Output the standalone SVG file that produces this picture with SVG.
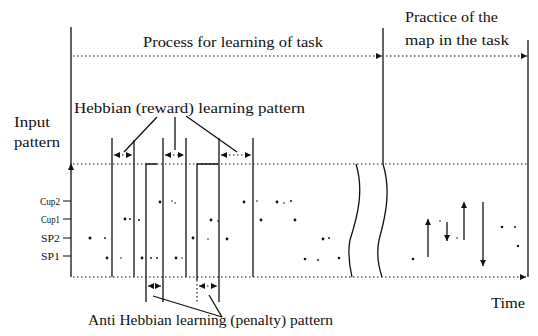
<svg xmlns="http://www.w3.org/2000/svg" width="538" height="336" viewBox="0 0 538 336">
<style>
.t{font-family:'Liberation Serif','DejaVu Serif','Noto Serif',Times,serif;fill:#111}
.s{stroke:#111;stroke-width:1.3;fill:none}
.d{stroke:#111;stroke-width:1.1;stroke-dasharray:1.5 2.5;fill:none}
.p{stroke:#111;stroke-width:1;fill:none}
.dot{fill:#111}
</style>
<defs>
<marker id="ah" viewBox="0 0 10 10" refX="10" refY="5" markerWidth="6" markerHeight="6" orient="auto-start-reverse" markerUnits="userSpaceOnUse"><path d="M0,0L10,5L0,10z" fill="#111"/></marker>
</defs>
<rect width="538" height="336" fill="#fff"/>
<g id="connectors">
<line class="s" x1="71" y1="27" x2="71" y2="277"/>
<path d="M68,170 L71,163 L74,170z" fill="#111"/>
<line class="s" x1="383" y1="28" x2="383" y2="164"/>
<line class="s" x1="528" y1="40" x2="528" y2="277"/>
<line class="d" x1="73" y1="56" x2="382" y2="56" marker-end="url(#ah)"/>
<line class="d" x1="386" y1="56" x2="527" y2="56" marker-end="url(#ah)"/>
<line class="d" x1="73" y1="164" x2="528" y2="164"/>
<line class="d" x1="73" y1="277" x2="526" y2="277" marker-end="url(#ah)"/>
<line class="p" x1="63" y1="201" x2="71" y2="201"/>
<line class="p" x1="63" y1="219" x2="71" y2="219"/>
<line class="p" x1="63" y1="238" x2="71" y2="238"/>
<line class="p" x1="63" y1="256" x2="71" y2="256"/>
<line class="s" x1="112" y1="138" x2="112" y2="277"/>
<line class="s" x1="134" y1="140" x2="134" y2="277"/>
<line class="s" x1="163" y1="138" x2="163" y2="302"/>
<line class="s" x1="186" y1="138" x2="186" y2="277"/>
<line class="s" x1="219" y1="138" x2="219" y2="302"/>
<line class="s" x1="253" y1="138" x2="253" y2="277"/>
<path class="s" d="M157,164 H146 V302"/>
<path class="s" d="M218,164 H197 V280"/>
<line class="d" x1="197" y1="280" x2="197" y2="302"/>
<line class="d" x1="114" y1="155" x2="132" y2="155" marker-start="url(#ah)" marker-end="url(#ah)"/>
<line class="d" x1="165" y1="155" x2="184" y2="155" marker-start="url(#ah)" marker-end="url(#ah)"/>
<line class="d" x1="221" y1="155" x2="251" y2="155" marker-start="url(#ah)" marker-end="url(#ah)"/>
<line class="d" x1="148" y1="286" x2="161" y2="286" marker-start="url(#ah)" marker-end="url(#ah)"/>
<line class="d" x1="199" y1="286" x2="217" y2="286" marker-start="url(#ah)" marker-end="url(#ah)"/>
<line class="s" x1="157" y1="117" x2="124" y2="152"/>
<line class="s" x1="175" y1="117" x2="175" y2="150"/>
<line class="s" x1="186" y1="116" x2="237" y2="152"/>
<line class="s" x1="153" y1="296" x2="222" y2="317"/>
<line class="s" x1="209" y1="295" x2="222" y2="317"/>
<path class="s" d="M356,164 C364,190 358,215 350,240 C347,255 350,268 352,277"/>
<path class="s" d="M383,164 C391,190 386,215 379,240 C376,255 379,268 382,277"/>
<line class="s" x1="428" y1="257" x2="428" y2="219" marker-end="url(#ah)"/>
<line class="s" x1="447" y1="222" x2="447" y2="241" marker-end="url(#ah)"/>
<line class="s" x1="464" y1="240" x2="464" y2="202" marker-end="url(#ah)"/>
<line class="s" x1="483" y1="202" x2="483" y2="266" marker-end="url(#ah)"/>
</g>
<g id="dots">
<circle class="dot" cx="160" cy="202" r="1.4"/><circle class="dot" cx="172" cy="201" r="0.8"/><circle class="dot" cx="175" cy="203" r="0.8"/>
<circle class="dot" cx="244" cy="202" r="1.4"/><circle class="dot" cx="257" cy="201" r="0.8"/><circle class="dot" cx="277" cy="202" r="1.4"/><circle class="dot" cx="284" cy="203" r="0.8"/><circle class="dot" cx="291" cy="201" r="1"/>
<circle class="dot" cx="125" cy="219" r="1.4"/><circle class="dot" cx="130" cy="219" r="0.9"/><circle class="dot" cx="139" cy="220" r="1"/>
<circle class="dot" cx="211" cy="220" r="1.4"/><circle class="dot" cx="218" cy="221" r="0.8"/><circle class="dot" cx="261" cy="220" r="1.4"/><circle class="dot" cx="295" cy="220" r="1.4"/>
<circle class="dot" cx="90" cy="238" r="1.5"/><circle class="dot" cx="105" cy="238" r="0.9"/>
<circle class="dot" cx="193" cy="238" r="1.4"/><circle class="dot" cx="208" cy="239" r="0.8"/><circle class="dot" cx="227" cy="239" r="1.4"/><circle class="dot" cx="323" cy="239" r="1.4"/><circle class="dot" cx="329" cy="238" r="0.9"/>
<circle class="dot" cx="107" cy="258" r="1.4"/><circle class="dot" cx="121" cy="258" r="0.8"/><circle class="dot" cx="142" cy="258" r="1.4"/><circle class="dot" cx="151" cy="258" r="0.9"/><circle class="dot" cx="157" cy="258" r="0.9"/><circle class="dot" cx="176" cy="258" r="1.4"/><circle class="dot" cx="182" cy="258" r="0.8"/>
<circle class="dot" cx="305" cy="259" r="1.3"/><circle class="dot" cx="318" cy="260" r="0.9"/><circle class="dot" cx="339" cy="258" r="1.3"/>
<circle class="dot" cx="413" cy="259" r="1.3"/><circle class="dot" cx="440" cy="221" r="0.8"/><circle class="dot" cx="457" cy="238" r="0.8"/><circle class="dot" cx="502" cy="227" r="1.3"/><circle class="dot" cx="515" cy="227" r="1"/><circle class="dot" cx="518" cy="246" r="1.2"/>
</g>
<g id="labels" font-family="'Liberation Serif','DejaVu Serif','Noto Serif',Times,serif" font-size="14">
<text class="t" x="143" y="47" textLength="180" lengthAdjust="spacingAndGlyphs">Process for learning of task</text>
<text class="t" x="405" y="22" textLength="93" lengthAdjust="spacingAndGlyphs">Practice of the</text>
<text class="t" x="405" y="45" textLength="104" lengthAdjust="spacingAndGlyphs">map in the task</text>
<text class="t" x="74" y="113" textLength="231" lengthAdjust="spacingAndGlyphs">Hebbian (reward) learning pattern</text>
<text class="t" x="14" y="127" textLength="36" lengthAdjust="spacingAndGlyphs">Input</text>
<text class="t" x="14" y="147" textLength="46" lengthAdjust="spacingAndGlyphs">pattern</text>
<text class="t" x="40" y="205" font-size="11" textLength="20" lengthAdjust="spacingAndGlyphs">Cup2</text>
<text class="t" x="41" y="223" font-size="11" textLength="19" lengthAdjust="spacingAndGlyphs">Cup1</text>
<text class="t" x="41" y="242" font-size="11" textLength="19" lengthAdjust="spacingAndGlyphs">SP2</text>
<text class="t" x="41" y="260" font-size="11" textLength="19" lengthAdjust="spacingAndGlyphs">SP1</text>
<text class="t" x="491" y="308" font-size="15" textLength="34" lengthAdjust="spacingAndGlyphs">Time</text>
<text class="t" x="88" y="325" textLength="245" lengthAdjust="spacingAndGlyphs">Anti Hebbian learning (penalty) pattern</text>
</g>
</svg>
